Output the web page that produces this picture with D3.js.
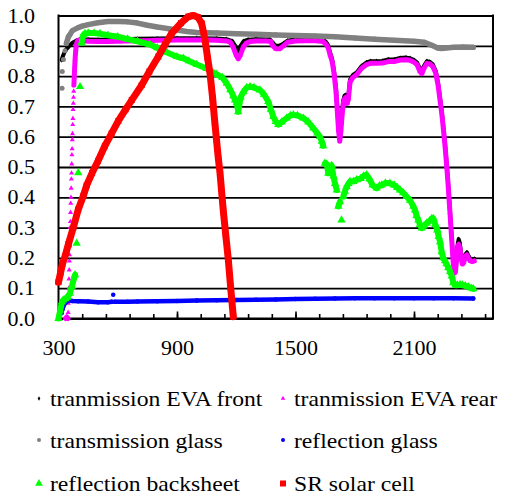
<!DOCTYPE html>
<html>
<head>
<meta charset="utf-8">
<script src="https://cdn.jsdelivr.net/npm/d3@7"></script>
<style>
  html, body { margin: 0; padding: 0; background: #fff; }
  svg { display: block; }
</style>
</head>
<body>
<svg id="chart" width="506" height="498"></svg>
<script>
// ---- readings: [wavelength in nm, fraction] ----
const evaFront = [
  [316,0.853],[322,0.866],[330,0.878],[340,0.889],[355,0.9],[370,0.909],[390,0.917],[410,0.921],
  [450,0.921],[500,0.92],[600,0.921],[700,0.923],[800,0.924],[900,0.925],[1000,0.925],[1100,0.924],
  [1150,0.922],[1180,0.915],[1195,0.9],[1210,0.882],[1222,0.9],[1238,0.915],[1260,0.92],[1300,0.922],
  [1370,0.921],[1385,0.91],[1400,0.9],[1420,0.9],[1440,0.908],[1460,0.917],[1500,0.922],[1600,0.923],
  [1640,0.92],[1655,0.912],[1665,0.902],[1675,0.878],[1685,0.858],[1695,0.818],[1705,0.758],[1712,0.69],
  [1718,0.63],[1724,0.595],[1730,0.63],[1737,0.69],[1742,0.72],[1748,0.735],[1755,0.738],[1762,0.72],
  [1768,0.735],[1776,0.788],[1790,0.803],[1810,0.812],[1835,0.833],[1860,0.845],[1880,0.849],[1910,0.849],
  [1940,0.85],[1970,0.855],[2000,0.855],[2030,0.86],[2060,0.861],[2080,0.859],[2100,0.853],[2115,0.845],
  [2130,0.825],[2140,0.82],[2150,0.833],[2165,0.849],[2180,0.847],[2195,0.839],[2210,0.817],[2222,0.777],
  [2232,0.727],[2240,0.687],[2248,0.637],[2257,0.577],[2266,0.507],[2274,0.437],[2282,0.357],[2290,0.277],
  [2298,0.197],[2305,0.157],[2310,0.165],[2315,0.205],[2320,0.24],[2326,0.262],[2332,0.25],[2338,0.215],
  [2345,0.195],[2352,0.197],[2360,0.212],[2368,0.218],[2375,0.208],[2385,0.197],[2395,0.195],[2405,0.197]
];

const evaRear = [
  [335,0.0],[342,0.005],[348,0.0],[349,0.02],[350,0.05],[351,0.08],[352,0.10],[353,0.13],[354,0.16],
  [355,0.19],[356,0.21],[357,0.24],[358,0.27],[359,0.30],[360,0.32],[361,0.35],[362,0.38],[363,0.40],
  [364,0.43],[365,0.46],[366,0.48],[367,0.51],[368,0.54],[369,0.56],[370,0.59],[371,0.61],[372,0.64],
  [373,0.66],[374,0.69],[375,0.71],[376,0.73],[377,0.75],[378,0.77],[380,0.80],[382,0.83],[384,0.855],
  [386,0.875],[388,0.89],[391,0.905],[395,0.915],[400,0.918],[420,0.917],[450,0.915],[500,0.914],
  [550,0.914],[600,0.915],[650,0.916],[700,0.917],[750,0.917],[800,0.918],[850,0.918],[900,0.919],
  [950,0.919],[1000,0.919],[1050,0.919],[1100,0.918],[1150,0.916],[1170,0.912],[1185,0.895],[1200,0.868],
  [1210,0.857],[1220,0.868],[1235,0.895],[1250,0.908],[1270,0.914],[1300,0.916],[1350,0.916],[1375,0.914],
  [1385,0.9],[1400,0.89],[1420,0.89],[1440,0.9],[1460,0.912],[1500,0.916],[1550,0.917],[1600,0.917],
  [1640,0.914],[1655,0.905],[1665,0.895],[1675,0.87],[1685,0.85],[1695,0.81],[1705,0.75],[1712,0.68],
  [1718,0.62],[1724,0.585],[1730,0.62],[1737,0.68],[1742,0.71],[1748,0.725],[1755,0.73],[1762,0.71],
  [1768,0.725],[1776,0.78],[1790,0.795],[1810,0.805],[1835,0.826],[1860,0.838],[1880,0.842],[1910,0.842],
  [1940,0.843],[1970,0.848],[2000,0.848],[2030,0.853],[2060,0.854],[2080,0.852],[2100,0.846],[2115,0.838],
  [2130,0.815],[2140,0.808],[2150,0.825],[2165,0.842],[2180,0.84],[2195,0.832],[2210,0.81],[2222,0.77],
  [2232,0.72],[2240,0.68],[2248,0.63],[2257,0.57],[2266,0.50],[2274,0.43],[2282,0.35],[2290,0.27],
  [2298,0.19],[2305,0.15],[2310,0.155],[2315,0.19],[2320,0.23],[2326,0.245],[2332,0.235],[2338,0.2],
  [2345,0.18],[2352,0.185],[2360,0.205],[2368,0.21],[2375,0.2],[2385,0.19],[2395,0.188],[2405,0.19]
];

const glassTransmission = [
  [318,0.76],[319,0.815],[325,0.855],[333,0.884],[340,0.908],[350,0.93],[357,0.936],[370,0.95],
  [400,0.96],[420,0.965],[450,0.97],[500,0.976],[550,0.98],[600,0.98],[650,0.979],[700,0.975],
  [750,0.968],[800,0.962],[850,0.957],[900,0.952],[950,0.947],[1000,0.944],[1100,0.942],[1200,0.94],
  [1300,0.938],[1400,0.936],[1500,0.934],[1600,0.932],[1700,0.93],[1800,0.926],[1900,0.922],[2000,0.918],
  [2100,0.915],[2150,0.912],[2190,0.902],[2220,0.893],[2240,0.891],[2300,0.895],[2350,0.896],[2400,0.895]
];

const glassReflection = [
  [316,0.017],[320,0.03],[324,0.039],[330,0.048],[340,0.055],[350,0.06],[370,0.058],[400,0.057],
  [450,0.056],[500,0.054],[550,0.054],[570,0.055],[577,0.078],[585,0.055],[650,0.055],[700,0.056],
  [800,0.057],[900,0.058],[1000,0.059],[1100,0.06],[1200,0.061],[1300,0.062],[1400,0.063],[1500,0.064],
  [1600,0.065],[1700,0.066],[1800,0.067],[1900,0.067],[2000,0.067],[2100,0.067],[2200,0.067],
  [2300,0.067],[2400,0.066]
];

const backsheetReflection = [
  [300,0.0],[318,0.055],[324,0.061],[335,0.065],[345,0.07],[358,0.083],[367,0.105],[384,0.144],
  [392,0.248],[400,0.481],[409,0.765],[417,0.91],[425,0.935],[434,0.94],[450,0.942],[480,0.942],
  [510,0.94],[550,0.935],[600,0.93],[650,0.922],[700,0.915],[763,0.904],[800,0.893],[850,0.878],
  [900,0.864],[932,0.859],[960,0.85],[1000,0.838],[1050,0.825],[1101,0.806],[1130,0.795],[1152,0.776],
  [1170,0.755],[1185,0.735],[1194,0.721],[1202,0.712],[1210,0.682],[1222,0.73],[1236,0.748],[1253,0.762],
  [1270,0.765],[1290,0.762],[1320,0.754],[1340,0.74],[1362,0.716],[1375,0.69],[1388,0.666],[1400,0.65],
  [1413,0.64],[1430,0.648],[1455,0.661],[1475,0.67],[1489,0.672],[1510,0.67],[1540,0.661],[1565,0.648],
  [1590,0.628],[1610,0.612],[1624,0.6],[1633,0.585],[1640,0.57],[1649,0.512],[1658,0.51],[1666,0.479],
  [1675,0.5],[1683,0.505],[1692,0.47],[1700,0.445],[1709,0.424],[1717,0.37],[1725,0.385],[1733,0.325],
  [1742,0.402],[1750,0.42],[1759,0.435],[1768,0.445],[1776,0.452],[1793,0.452],[1810,0.458],[1830,0.462],
  [1845,0.47],[1860,0.474],[1875,0.46],[1890,0.44],[1911,0.43],[1925,0.438],[1936,0.44],[1955,0.447],
  [1978,0.446],[2000,0.44],[2015,0.432],[2029,0.424],[2045,0.415],[2063,0.402],[2080,0.39],[2097,0.37],
  [2105,0.358],[2113,0.34],[2122,0.325],[2130,0.31],[2139,0.298],[2150,0.305],[2165,0.315],[2180,0.322],
  [2190,0.33],[2198,0.33],[2208,0.31],[2218,0.292],[2225,0.27],[2232,0.253],[2240,0.22],[2248,0.2],
  [2257,0.19],[2265,0.18],[2274,0.168],[2283,0.155],[2291,0.14],[2299,0.118],[2310,0.11],[2320,0.11],
  [2333,0.112],[2345,0.11],[2360,0.108],[2375,0.105],[2390,0.1],[2400,0.098]
];

const cellResponse = [
  [300,0.12],[310,0.15],[320,0.18],[333,0.205],[350,0.245],[375,0.30],[400,0.36],[426,0.405],
  [443,0.44],[470,0.48],[500,0.52],[535,0.57],[569,0.611],[603,0.652],[640,0.69],[671,0.721],
  [721,0.77],[760,0.815],[805,0.864],[840,0.905],[873,0.941],[920,0.975],[957,0.996],[982,1.0],
  [1005,0.995],[1025,0.974],[1042,0.919],[1055,0.86],[1067,0.809],[1080,0.73],[1092,0.644],
  [1100,0.59],[1109,0.53],[1118,0.479],[1134,0.358],[1147,0.275],[1160,0.193],[1172,0.1],[1185,0.006]
];

const seriesNames = [
  "tranmission EVA front", "tranmission EVA rear",
  "transmission glass", "reflection glass",
  "reflection backsheet", "SR solar cell"
];
const xTickLabels = [300, 900, 1500, 2100];
const yTickLabels = ["0.0","0.1","0.2","0.3","0.4","0.5","0.6","0.7","0.8","0.9","1.0"];

// ---- drawing styles for each series (same order as the names) ----
const styles = [
  { data: evaFront,            color: "#000000", symbol: d3.symbolDiamond,  area: 8,  size: 4, width: 4,   step: 1, joinAll: false, legendArea: 6 },
  { data: evaRear,             color: "#ff00ff", symbol: d3.symbolTriangle, area: 11, size: 5, width: 5,   step: 1, joinAll: false, legendArea: 9 },
  { data: glassTransmission,   color: "#808080", symbol: d3.symbolCircle,   area: 20, size: 5, width: 5.5, step: 5, joinAll: false, legendArea: 13 },
  { data: glassReflection,     color: "#0000ff", symbol: d3.symbolCircle,   area: 16, size: 4, width: 4.5, step: 5, joinAll: false, legendArea: 13 },
  { data: backsheetReflection, color: "#00ff00", symbol: d3.symbolTriangle, area: 30, size: 7, width: 6,   step: 5, joinAll: false, legendArea: 26 },
  { data: cellResponse,        color: "#ff0000", symbol: d3.symbolSquare,   area: 36, size: 6, width: 7,   step: 1, joinAll: true,  legendArea: 36 }
];

const FONT = "Liberation Serif";

const svg = d3.select("#chart");
const x = d3.scaleLinear().domain([300, 2500]).range([58.5, 493]);
const y = d3.scaleLinear().domain([0, 1]).range([318.5, 15.5]);
const plotW = x(2500) - x(300);
const stretch = 1.1;   // glyphs are drawn slightly wide

// horizontal gridlines and value labels
const yAxis = svg.append("g")
  .attr("transform", `translate(${x(300)},0)`)
  .call(d3.axisLeft(y)
    .tickValues(yTickLabels.map(Number))
    .tickFormat((d, i) => yTickLabels[i])
    .tickSize(-plotW)
    .tickSizeOuter(0));
yAxis.select(".domain").remove();
yAxis.selectAll(".tick line").attr("stroke", "#000").attr("stroke-width", 1.8);
yAxis.selectAll(".tick text")
  .style("font-family", FONT)
  .style("font-size", "20px")
  .attr("fill", "#000")
  .attr("text-anchor", "end")
  .attr("x", -23.5 / stretch)
  .attr("dy", "0.33em")
  .attr("transform", `scale(${stretch},1)`);

// minor ticks on the wavelength axis
const xMinor = svg.append("g")
  .attr("transform", `translate(0,${y(0)})`)
  .call(d3.axisBottom(x)
    .tickValues(d3.range(300, 2500, 120))
    .tickSize(-4.5)
    .tickSizeOuter(0)
    .tickFormat(""));
xMinor.select(".domain").remove();
xMinor.selectAll(".tick line").attr("stroke", "#000").attr("stroke-width", 1.6);

// major ticks with labels
const xMajor = svg.append("g")
  .attr("transform", `translate(0,${y(0)})`)
  .call(d3.axisBottom(x)
    .tickValues(xTickLabels)
    .tickFormat(d3.format("d"))
    .tickSize(-7)
    .tickSizeOuter(0));
xMajor.select(".domain").remove();
xMajor.selectAll(".tick line").attr("stroke", "#000").attr("stroke-width", 1.6);
xMajor.selectAll(".tick text")
  .style("font-family", FONT)
  .style("font-size", "20px")
  .attr("fill", "#000")
  .attr("y", 0)
  .attr("dy", 36.5)
  .attr("text-anchor", "middle")
  .attr("transform", `scale(${stretch},1)`);

// plot frame
const frame = svg.append("g").attr("stroke", "#000").attr("stroke-width", 2);
frame.append("line").attr("x1", x(300)).attr("x2", x(300)).attr("y1", y(1) - 1).attr("y2", y(0) + 1);
frame.append("line").attr("x1", x(300) - 1).attr("x2", x(2500) + 1).attr("y1", y(0)).attr("y2", y(0));
frame.append("line").attr("x1", x(2500)).attr("x2", x(2500)).attr("y1", y(1) - 1).attr("y2", y(0) + 1);

// series: dense scans drawn as marker trails; readings are joined where the
// markers of the underlying scan would overlap, otherwise they stand alone
const plot = svg.append("g");
const line = d3.line().x(d => d[0]).y(d => d[1]);

styles.forEach(s => {
  const g = plot.append("g");
  const pts = s.data.map(([n, v]) => [x(n), y(v), n]);
  const runs = [];
  let run = [pts[0]];
  for (let i = 1; i < pts.length; i++) {
    const a = pts[i - 1], b = pts[i];
    const slope = Math.abs(b[1] - a[1]) / Math.max(Math.abs(b[2] - a[2]), 1e-6);
    if (s.joinAll || slope * s.step < s.size) run.push(b);
    else { runs.push(run); run = [b]; }
  }
  runs.push(run);
  runs.filter(r => r.length > 1).forEach(r => {
    g.append("path")
      .attr("d", line(r))
      .attr("fill", "none")
      .attr("stroke", s.color)
      .attr("stroke-width", s.width)
      .attr("stroke-linecap", "round")
      .attr("stroke-linejoin", "round");
  });
  g.selectAll("path.mark").data(pts).enter().append("path")
    .attr("class", "mark")
    .attr("transform", d => `translate(${d[0]},${d[1]})`)
    .attr("d", d3.symbol().type(s.symbol).size(s.area))
    .attr("fill", s.color);
});

// legend: two columns, three rows
const legendCols = [39, 283];
const legendRows = [406, 447.5, 491];
const legend = svg.append("g");
seriesNames.forEach((name, i) => {
  const col = i % 2, row = Math.floor(i / 2);
  const s = styles[i];
  const lx = legendCols[col], ly = legendRows[row];
  legend.append("path")
    .attr("transform", `translate(${lx},${ly - 7.5})`)
    .attr("d", d3.symbol().type(s.symbol).size(s.legendArea))
    .attr("fill", s.color);
  legend.append("text")
    .attr("transform", `translate(${lx + 11},${ly}) scale(${stretch},1)`)
    .style("font-family", FONT)
    .style("font-size", "21.5px")
    .attr("fill", "#000")
    .text(name);
});
</script>
</body>
</html>
